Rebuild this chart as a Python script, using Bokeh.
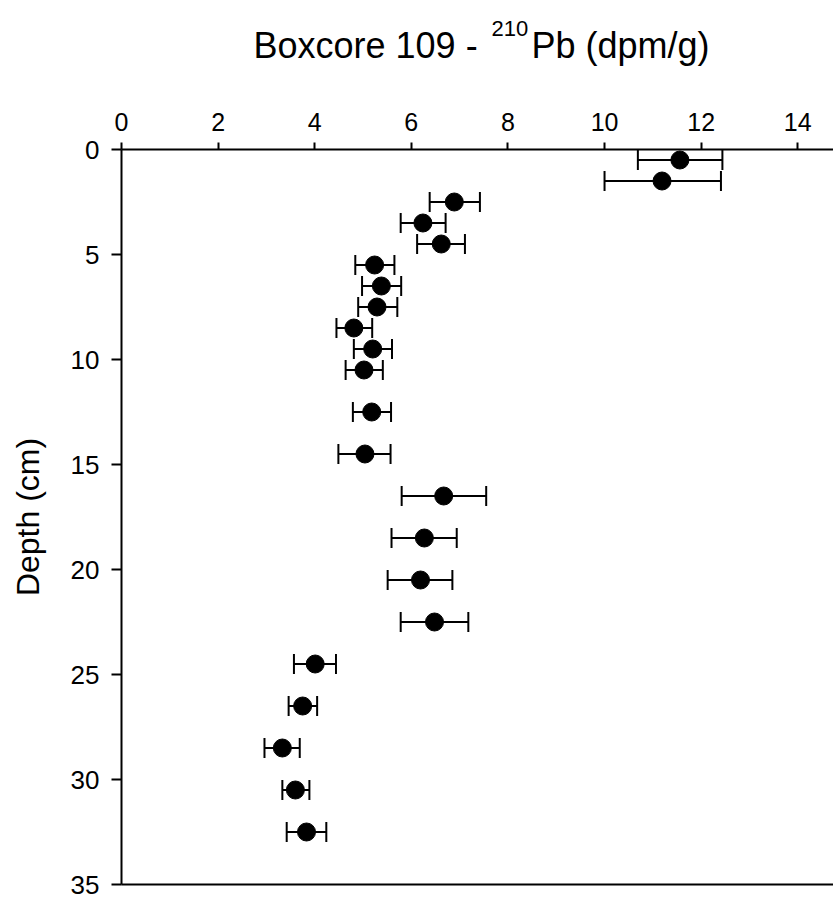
from bokeh.plotting import figure
from bokeh.layouts import column
from bokeh.models import (ColumnDataSource, Range1d, FixedTicker, LinearAxis,
                          Whisker, TeeHead, Label)
from bokeh.embed import file_html
from bokeh.resources import INLINE

# ---- data ----
depth = [0.5, 1.5, 2.5, 3.5, 4.5, 5.5, 6.5, 7.5, 8.5, 9.5, 10.5, 12.5, 14.5,
         16.5, 18.5, 20.5, 22.5, 24.5, 26.5, 28.5, 30.5, 32.5]
pb210 = [11.56, 11.19, 6.89, 6.24, 6.62, 5.24, 5.38, 5.29, 4.81, 5.20, 5.02,
         5.18, 5.04, 6.67, 6.27, 6.19, 6.48, 4.01, 3.75, 3.33, 3.60, 3.83]
err_low = [10.69, 10.00, 6.38, 5.78, 6.12, 4.84, 4.98, 4.90, 4.45, 4.81, 4.64,
           4.79, 4.49, 5.80, 5.59, 5.51, 5.78, 3.57, 3.46, 2.96, 3.33, 3.42]
err_high = [12.44, 12.41, 7.42, 6.71, 7.11, 5.65, 5.79, 5.71, 5.19, 5.60, 5.41,
            5.58, 5.57, 7.55, 6.94, 6.85, 7.18, 4.44, 4.05, 3.69, 3.89, 4.24]
x_ticks = [0, 2, 4, 6, 8, 10, 12, 14]
y_ticks = [0, 5, 10, 15, 20, 25, 30, 35]
title_main = "Boxcore 109 -"
title_sup = "210"
title_rest = "Pb (dpm/g)"
y_title = "Depth (cm)"

FONT = "Liberation Sans"

# layout (pixels)
W = 833
TITLE_H = 90
LEFT, TOP, FW, FH = 121, 149 - TITLE_H, 712, 735
MAIN_H = 898 - TITLE_H
X_END = 14.74

# ---- title strip (its own small figure so the text is not clipped) ----
# its frame covers canvas pixels LEFT..W horizontally and 0..TITLE_H vertically
t = figure(width=W, height=TITLE_H, frame_width=FW, frame_height=TITLE_H,
           x_range=Range1d(LEFT, W), y_range=Range1d(TITLE_H, 0),
           x_axis_location=None, y_axis_location=None, output_backend="svg",
           toolbar_location=None, min_border_left=LEFT, min_border_right=0,
           min_border_top=0, min_border_bottom=0)
t.outline_line_color = None
t.grid.visible = False
for txt, px, py, fs in [(title_main, 253, 45, "36px"),
                        (title_sup, 491, 28, "22px"),
                        (title_rest, 531, 45, "36px")]:
    t.add_layout(Label(x=px, y=py, text=txt, text_font=FONT,
                       text_font_size=fs, text_baseline="alphabetic",
                       text_align="left", text_color="black"))

# ---- main plot ----
src = ColumnDataSource(dict(depth=depth, pb=pb210, lo=err_low, hi=err_high))

p = figure(width=W, height=MAIN_H, frame_width=FW, frame_height=FH,
           x_range=Range1d(0, X_END), y_range=Range1d(35, 0),
           x_axis_location=None, y_axis_location=None, output_backend="svg",
           toolbar_location=None, min_border_left=LEFT, min_border_top=TOP,
           min_border_right=0, min_border_bottom=MAIN_H - TOP - FH)
p.outline_line_color = None
p.background_fill_color = "white"
p.border_fill_color = "white"

# top x axis
xa = LinearAxis(ticker=FixedTicker(ticks=x_ticks))
xa.minor_tick_line_color = None
xa.major_tick_out = 7
xa.major_tick_in = 0
xa.major_tick_line_width = 2
xa.axis_line_width = 2
xa.major_label_standoff = 12
xa.major_label_text_font = FONT
xa.major_label_text_font_size = "25px"
xa.major_label_text_color = "black"
p.add_layout(xa, "above")

# left y axis
ya = LinearAxis(ticker=FixedTicker(ticks=y_ticks))
ya.minor_tick_line_color = None
ya.major_tick_out = 10
ya.major_tick_in = 0
ya.major_tick_line_width = 2
ya.axis_line_width = 2
ya.major_label_standoff = 12
ya.major_label_text_font = FONT
ya.major_label_text_font_size = "26px"
ya.major_label_text_color = "black"
ya.axis_label = y_title
ya.axis_label_text_font = FONT
ya.axis_label_text_font_size = "32px"
ya.axis_label_text_font_style = "normal"
ya.axis_label_text_color = "black"
ya.axis_label_standoff = 22
p.add_layout(ya, "left")

# bottom frame line
bot = LinearAxis(ticker=FixedTicker(ticks=[]), axis_line_width=2,
                 major_tick_line_color=None, minor_tick_line_color=None,
                 major_label_text_font_size="0px")
p.add_layout(bot, "below")
p.grid.visible = False

# error bars
wh = Whisker(source=src, base="depth", lower="lo", upper="hi",
             dimension="width", line_width=2, line_color="black",
             upper_head=TeeHead(size=20, line_width=2, line_color="black"),
             lower_head=TeeHead(size=20, line_width=2, line_color="black"))
p.add_layout(wh)

p.scatter("pb", "depth", source=src, size=18, marker="circle",
          fill_color="black", line_color="black")

layout = column(t, p, spacing=0)
open("out.html", "w").write(file_html(layout, INLINE))
